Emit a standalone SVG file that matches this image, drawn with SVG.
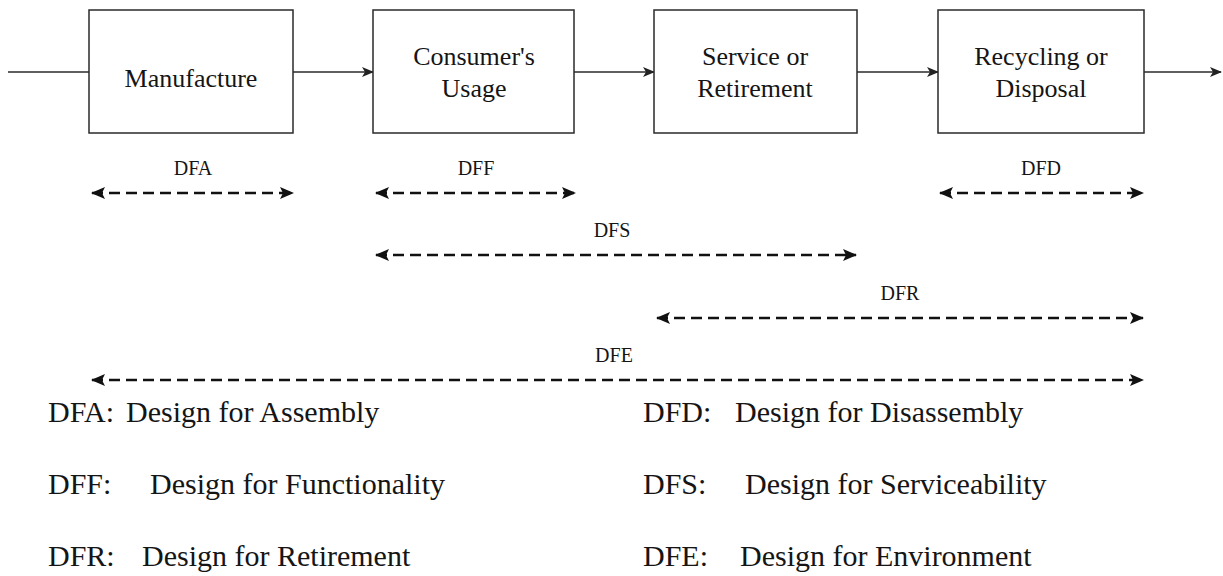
<svg xmlns="http://www.w3.org/2000/svg" width="1223" height="576" viewBox="0 0 1223 576">
<style>
text{font-family:'Liberation Serif','Times New Roman','DejaVu Serif',serif;fill:#151515}
.box{fill:#fff;stroke:#2a2a2a;stroke-width:1.5}
.bt{font-size:26px;text-anchor:middle}
.lab{font-size:20px;text-anchor:middle}
.leg{font-size:30px}
.flow{stroke:#2a2a2a;stroke-width:1.5;fill:none}
.span{stroke:#111;stroke-width:2.3;stroke-dasharray:11 6;fill:none}
</style>
<defs>
<marker id="ah" markerWidth="12" markerHeight="10" refX="11" refY="5" orient="auto" markerUnits="userSpaceOnUse">
<path d="M0,0 L12,5 L0,10 L3,5 Z" fill="#222"/>
</marker>
<marker id="dh" markerWidth="14" markerHeight="12" refX="13" refY="6" orient="auto-start-reverse" markerUnits="userSpaceOnUse">
<path d="M0,0 L14,6 L0,12 L3,6 Z" fill="#111"/>
</marker>
</defs>
<g id="connectors">
<line class="flow" x1="8" y1="72" x2="89" y2="72"/>
<line class="flow" x1="293" y1="72" x2="373" y2="72" marker-end="url(#ah)"/>
<line class="flow" x1="574" y1="72" x2="654" y2="72" marker-end="url(#ah)"/>
<line class="flow" x1="857" y1="72" x2="938" y2="72" marker-end="url(#ah)"/>
<line class="flow" x1="1144" y1="72" x2="1221" y2="72" marker-end="url(#ah)"/>
</g>
<g id="manufacture"><rect class="box" x="89" y="10" width="204" height="123"/><text class="bt" x="191" y="87">Manufacture</text></g>
<g id="usage"><rect class="box" x="373" y="10" width="201" height="123"/><text class="bt" x="474" y="65">Consumer's</text><text class="bt" x="474" y="97">Usage</text></g>
<g id="service"><rect class="box" x="654" y="10" width="203" height="123"/><text class="bt" x="755" y="65">Service or</text><text class="bt" x="755" y="97">Retirement</text></g>
<g id="recycling"><rect class="box" x="938" y="10" width="206" height="123"/><text class="bt" x="1041" y="65">Recycling or</text><text class="bt" x="1041" y="97">Disposal</text></g>
<g id="spans">
<g id="dfa"><text class="lab" x="193" y="175">DFA</text><line class="span" x1="92" y1="193" x2="293" y2="193" marker-start="url(#dh)" marker-end="url(#dh)"/></g>
<g id="dff"><text class="lab" x="476" y="175">DFF</text><line class="span" x1="376" y1="193" x2="575" y2="193" marker-start="url(#dh)" marker-end="url(#dh)"/></g>
<g id="dfd"><text class="lab" x="1041" y="175">DFD</text><line class="span" x1="940" y1="193" x2="1143" y2="193" marker-start="url(#dh)" marker-end="url(#dh)"/></g>
<g id="dfs"><text class="lab" x="612" y="237">DFS</text><line class="span" x1="376" y1="255" x2="856" y2="255" marker-start="url(#dh)" marker-end="url(#dh)"/></g>
<g id="dfr"><text class="lab" x="900" y="300">DFR</text><line class="span" x1="657" y1="318" x2="1143" y2="318" marker-start="url(#dh)" marker-end="url(#dh)"/></g>
<g id="dfe"><text class="lab" x="614" y="362">DFE</text><line class="span" x1="92" y1="380" x2="1143" y2="380" marker-start="url(#dh)" marker-end="url(#dh)"/></g>
</g>
<g id="legend">
<text class="leg" x="48" y="422">DFA:</text><text class="leg" x="126" y="422">Design for Assembly</text>
<text class="leg" x="48" y="494">DFF:</text><text class="leg" x="150" y="494">Design for Functionality</text>
<text class="leg" x="48" y="566">DFR:</text><text class="leg" x="142" y="566">Design for Retirement</text>
<text class="leg" x="643" y="422">DFD:</text><text class="leg" x="735" y="422">Design for Disassembly</text>
<text class="leg" x="643" y="494">DFS:</text><text class="leg" x="745" y="494">Design for Serviceability</text>
<text class="leg" x="643" y="566">DFE:</text><text class="leg" x="740" y="566">Design for Environment</text>
</g>
</svg>
